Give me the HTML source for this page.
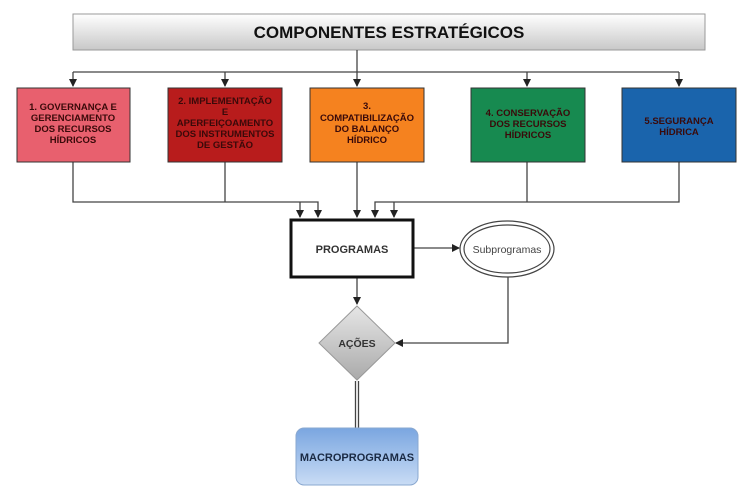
<!DOCTYPE html>
<html><head><meta charset="utf-8"><style>
body{margin:0;background:#fff;width:750px;height:495px;overflow:hidden}
.t{font-family:"Liberation Sans",sans-serif;font-weight:bold}
</style></head><body>
<svg width="750" height="495" xmlns="http://www.w3.org/2000/svg">
<defs>
<linearGradient id="g1" x1="0" y1="0" x2="0" y2="1"><stop offset="0" stop-color="#ffffff"/><stop offset="1" stop-color="#c8c8c8"/></linearGradient>
<linearGradient id="g2" x1="0" y1="0" x2="0" y2="1"><stop offset="0" stop-color="#e6e6e6"/><stop offset="1" stop-color="#aaaaaa"/></linearGradient>
<linearGradient id="g3" x1="0" y1="0" x2="0" y2="1"><stop offset="0" stop-color="#7aa6e0"/><stop offset="1" stop-color="#c9dcf5"/></linearGradient>
<marker id="a" markerWidth="8" markerHeight="8" refX="7" refY="4" orient="auto" markerUnits="userSpaceOnUse"><path d="M0,0 L8,4 L0,8 z" fill="#222"/></marker>
</defs>
<rect x="73" y="14" width="632" height="36" fill="url(#g1)" stroke="#999"/>
<text x="389" y="38" class="t" font-size="17" text-anchor="middle" fill="#111">COMPONENTES ESTRATÉGICOS</text>
<g stroke="#444" stroke-width="1.3" fill="none">
<path d="M357 50 V86" marker-end="url(#a)"/>
<path d="M73 72 H679"/>
<path d="M73 72 V86" marker-end="url(#a)"/>
<path d="M225 72 V86" marker-end="url(#a)"/>
<path d="M527 72 V86" marker-end="url(#a)"/>
<path d="M679 72 V86" marker-end="url(#a)"/>
<path d="M73 162 V202 H318 V217" marker-end="url(#a)"/>
<path d="M225 162 V202"/>
<path d="M300 202 V217" marker-end="url(#a)"/>
<path d="M357 162 V217" marker-end="url(#a)"/>
<path d="M679 162 V202 H375 V217" marker-end="url(#a)"/>
<path d="M527 162 V202"/>
<path d="M394 202 V217" marker-end="url(#a)"/>
<path d="M414 248 H459" marker-end="url(#a)"/>
<path d="M357 278 V304" marker-end="url(#a)"/>
<path d="M508 277 V343 H396" marker-end="url(#a)"/>
<path d="M355.5 381 V428 M358.5 381 V428"/>
</g>
<rect x="17" y="88" width="113" height="74" fill="#e8606e" stroke="#333"/>
<rect x="168" y="88" width="114" height="74" fill="#b81c1c" stroke="#333"/>
<rect x="310" y="88" width="114" height="74" fill="#f5821f" stroke="#333"/>
<rect x="471" y="88" width="114" height="74" fill="#178a50" stroke="#333"/>
<rect x="622" y="88" width="114" height="74" fill="#1a64ac" stroke="#333"/>
<g class="t" font-size="9.5" text-anchor="middle" fill="#3a0a0a">
<text x="73" y="110">1. GOVERNANÇA E</text><text x="73" y="121">GERENCIAMENTO</text><text x="73" y="132">DOS RECURSOS</text><text x="73" y="143">HÍDRICOS</text>
<text x="225" y="104">2. IMPLEMENTAÇÃO</text><text x="225" y="115">E</text><text x="225" y="126">APERFEIÇOAMENTO</text><text x="225" y="137">DOS INSTRUMENTOS</text><text x="225" y="148">DE GESTÃO</text>
<text x="367" y="109">3.</text><text x="367" y="121">COMPATIBILIZAÇÃO</text><text x="367" y="132">DO BALANÇO</text><text x="367" y="143">HÍDRICO</text>
<text x="528" y="116">4. CONSERVAÇÃO</text><text x="528" y="127">DOS RECURSOS</text><text x="528" y="138">HÍDRICOS</text>
<text x="679" y="124">5.SEGURANÇA</text><text x="679" y="135">HÍDRICA</text>
</g>
<rect x="291" y="220" width="122" height="57" fill="#fff" stroke="#111" stroke-width="3"/>
<text x="352" y="253" class="t" font-size="11" text-anchor="middle" fill="#333">PROGRAMAS</text>
<ellipse cx="507" cy="249" rx="47" ry="28" fill="#fff" stroke="#444" stroke-width="1.2"/>
<ellipse cx="507" cy="249" rx="43" ry="24" fill="#fff" stroke="#444" stroke-width="1.2"/>
<text x="507" y="253" font-family="Liberation Sans,sans-serif" font-size="10.5" text-anchor="middle" fill="#444">Subprogramas</text>
<polygon points="357,306 395,343 357,380 319,343" fill="url(#g2)" stroke="#999"/>
<text x="357" y="347" class="t" font-size="10.5" text-anchor="middle" fill="#333">AÇÕES</text>
<rect x="296" y="428" width="122" height="57" rx="8" fill="url(#g3)" stroke="#8aa8d0"/>
<text x="357" y="461" class="t" font-size="11" text-anchor="middle" fill="#1a2a44">MACROPROGRAMAS</text>
</svg>
</body></html>
